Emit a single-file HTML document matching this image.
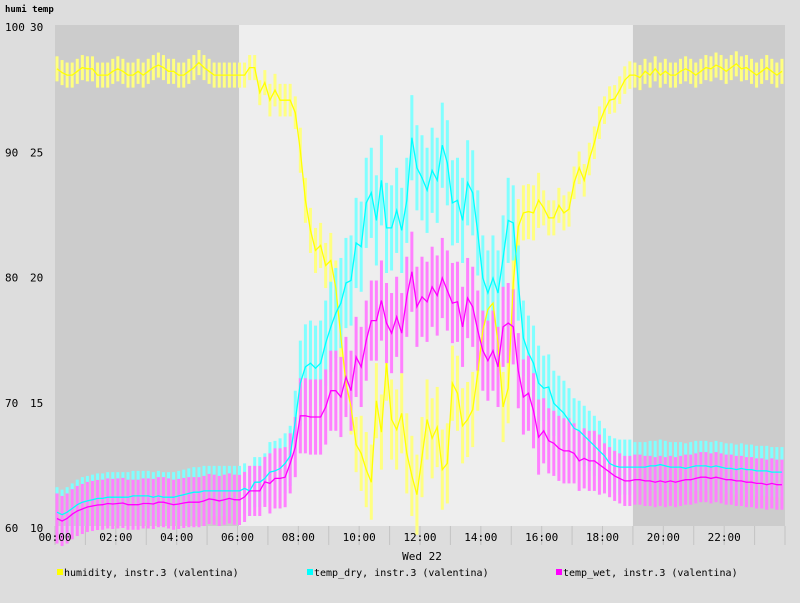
<!DOCTYPE html>
<html><head><meta charset="utf-8"><style>
html,body{margin:0;padding:0;background:#dddddd;}
svg{display:block;font-family:"DejaVu Sans Mono","Liberation Mono",monospace;}
</style></head><body>
<svg id="chart" width="800" height="603" viewBox="0 0 800 603" xmlns="http://www.w3.org/2000/svg">
<rect x="0" y="0" width="800" height="603" fill="#dddddd"/>
<g id="shade"></g><g id="ticks"></g><g id="bars"></g><g id="lines"></g>
<text x="5" y="12" font-size="9" font-weight="bold" fill="#000">humi temp</text>
<g id="ylabels" font-size="11" fill="#000"></g>
<g id="xlabels" font-size="11" fill="#000"></g>
<text x="422" y="560" font-size="11" text-anchor="middle" fill="#000">Wed 22</text>
<g font-size="10">
<rect x="57" y="569" width="6" height="6" fill="#ffff00"/>
<text x="64" y="576" fill="#000">humidity, instr.3 (valentina)</text>
<rect x="307" y="569" width="6" height="6" fill="#00ffff"/>
<text x="314" y="576" fill="#000">temp_dry, instr.3 (valentina)</text>
<rect x="556" y="569" width="6" height="6" fill="#ff00ff"/>
<text x="563" y="576" fill="#000">temp_wet, instr.3 (valentina)</text>
</g>
</svg>
<script>
const humidity=[96.5,96.2,96.0,96.0,96.3,96.6,96.5,96.5,96.0,96.0,96.0,96.3,96.5,96.3,96.0,96.0,96.3,96.0,96.3,96.6,96.8,96.6,96.3,96.3,96.0,96.0,96.3,96.6,97.0,96.6,96.3,96.0,96.0,96.0,96.0,96.0,
96.0,96.0,96.6,96.6,94.6,95.4,94.0,94.8,94.0,94.0,94.0,93.0,90.0,86.0,83.6,82.0,82.4,80.8,81.2,79.0,75.1,71.4,69.5,66.5,65.8,64.5,63.5,70.0,67.5,73.0,68.5,67.7,69.0,65.8,64.0,62.5,65.5,68.5,67.0,67.9,64.5,65.0,71.4,70.6,68.0,68.5,69.3,72.2,75.6,77.3,77.8,74.6,69.5,71.0,79.4,83.9,85.0,85.1,85.0,86.0,85.4,84.6,84.6,85.6,85.0,85.3,87.4,88.6,87.6,89.3,90.6,92.2,93.2,94.0,94.1,94.8,95.6,96.0,96.0,
95.8,96.3,96.0,96.5,96.0,96.3,96.0,96.0,96.3,96.5,96.3,96.0,96.3,96.6,96.5,96.8,96.6,96.3,96.6,96.9,96.5,96.6,96.3,96.0,96.3,96.6,96.3,96.0,96.3];
const tempDry=[10.55,10.45,10.55,10.7,10.85,10.95,11.0,11.05,11.1,11.1,11.15,11.15,11.15,11.15,11.15,11.2,11.2,11.2,11.2,11.15,11.2,11.15,11.15,11.15,11.2,11.25,11.3,11.35,11.35,11.4,11.4,11.4,11.4,11.4,11.4,11.4,
11.4,11.5,11.4,11.75,11.75,11.9,12.15,12.2,12.3,12.5,12.8,14.2,15.7,16.35,16.5,16.3,16.5,17.3,17.95,18.5,18.9,19.7,19.8,21.3,21.15,22.9,23.3,22.2,23.8,21.9,21.9,22.6,21.8,23.0,25.5,24.3,23.9,23.4,24.2,23.8,25.2,24.5,22.9,23.0,22.2,23.7,23.3,21.7,19.9,19.3,19.9,19.3,20.7,22.2,22.1,19.7,17.5,16.9,16.5,15.7,15.5,15.55,14.9,14.7,14.5,14.2,13.9,13.8,13.6,13.4,13.2,13.0,12.8,12.5,12.4,12.35,12.35,12.35,12.35,
12.35,12.35,12.4,12.4,12.45,12.4,12.35,12.35,12.35,12.3,12.35,12.4,12.4,12.4,12.35,12.4,12.35,12.3,12.3,12.25,12.3,12.25,12.25,12.2,12.2,12.2,12.15,12.15,12.15];
const tempWet=[10.3,10.2,10.3,10.47,10.6,10.68,10.76,10.8,10.84,10.85,10.9,10.88,10.9,10.92,10.85,10.85,10.85,10.9,10.9,10.88,10.95,10.95,10.9,10.85,10.88,10.92,10.95,10.95,10.95,11.0,11.08,11.05,11.0,11.05,11.1,11.05,
11.04,11.16,11.4,11.4,11.4,11.76,11.7,11.9,11.9,11.95,12.5,13.15,14.4,14.4,14.35,14.35,14.35,14.75,15.4,15.4,15.15,15.95,15.4,16.75,16.35,17.4,18.2,18.2,19.0,18.1,17.7,18.35,17.7,19.15,20.15,18.75,19.15,18.95,19.55,19.2,19.9,19.4,18.9,18.95,17.95,19.1,18.75,17.8,17.0,16.6,17.0,16.35,17.95,18.1,17.95,16.2,15.15,15.3,14.6,13.55,13.8,13.4,13.3,13.1,13.0,13.0,12.9,12.6,12.7,12.6,12.6,12.45,12.3,
12.15,12.0,11.9,11.8,11.8,11.85,11.85,11.8,11.8,11.75,11.8,11.75,11.8,11.75,11.8,11.85,11.85,11.9,11.95,11.95,11.9,11.95,11.9,11.85,11.85,11.8,11.8,11.75,11.75,11.7,11.7,11.65,11.7,11.65,11.65];
const humSpreadHourly=[1.0,1.0,1.0,1.0,1.0,1.0,1.0,1.3,1.8,2.2,3.0,3.2,3.2,3.0,2.8,2.2,1.4,1.3,1.1,1.0,1.0,1.0,1.0,1.0];
const drySpreadHourly=[1.0,1.0,1.0,1.0,1.0,1.0,1.0,1.2,1.7,1.8,1.8,1.7,1.7,1.7,1.7,1.5,1.3,1.2,1.1,1.0,1.0,1.0,1.0,1.0];
const wetSpreadHourly=[1.0,1.0,1.0,1.0,1.0,1.0,1.0,1.2,1.5,1.6,1.6,1.6,1.6,1.6,1.6,1.5,1.3,1.2,1.0,1.0,1.0,1.0,1.0,1.0];
const hourLabels=["00:00","02:00","04:00","06:00","08:00","10:00","12:00","14:00","16:00","18:00","20:00","22:00"];
const humiTicks=[100,90,80,70,60];
const tempTicks=[30,25,20,15,10];
const nightStart=[0,19], nightEnd=[6.05,24];

const NS="http://www.w3.org/2000/svg";
const X0=55,X1=785,Y0=25,Y1=526;
const xOfHour=h=>X0+(X1-X0)*h/24;
const xOfIdx=i=>xOfHour(i/6)+2;
const yH=v=>Y1-(v-60)/40*(Y1-Y0);
const yT=v=>Y1-(v-10)/20*(Y1-Y0);
function mk(tag,attrs,parent){const e=document.createElementNS(NS,tag);for(const k in attrs)e.setAttribute(k,attrs[k]);parent.appendChild(e);return e;}
const shade=document.getElementById('shade');
const pa=mk('rect',{x:X0,y:Y0,width:X1-X0,height:Y1-Y0,fill:'#eeeeee'},shade);


for(let k=0;k<nightStart.length;k++){
 const r=mk('rect',{x:xOfHour(nightStart[k]),y:Y0,width:xOfHour(nightEnd[k])-xOfHour(nightStart[k]),height:Y1-Y0,fill:'#cccccc'},shade);
 
 
}
const ticks=document.getElementById('ticks');
for(let h=0;h<=24;h++){
 const t=mk('line',{x1:xOfHour(h),x2:xOfHour(h),y1:Y1,y2:545,stroke:'#c4c4c4','stroke-width':1},ticks);
 
 
}
const xl=document.getElementById('xlabels');
hourLabels.forEach((s,k)=>{const t=mk('text',{x:xOfHour(k*2),y:541,'text-anchor':'middle'},xl);t.textContent=s;
 
 });
const yl=document.getElementById('ylabels');
humiTicks.forEach((v,k)=>{const t=mk('text',{x:5,y:yH(v)+6},yl);t.textContent=v;
 
 
 const u=mk('text',{x:30,y:yT(tempTicks[k])+6},yl);u.textContent=tempTicks[k];
 
 });
const bars=document.getElementById('bars'),lines=document.getElementById('lines');
const series=[
 {d:humidity,s:humSpreadHourly,y:yH,bar:'#ffff80',line:'#ffff00',name:'humidity'},
 {d:tempDry,s:drySpreadHourly,y:yT,bar:'#80ffff',line:'#00ffff',name:'temp-dry'},
 {d:tempWet,s:wetSpreadHourly,y:yT,bar:'#ff80ff',line:'#ff00ff',name:'temp-wet'}];
series.forEach(S=>{
 S.d.forEach((v,i)=>{
  const sp=S.s[Math.floor(i/6)];
  const ya=S.y(v+sp),yb=S.y(v-sp);
  const r=mk('rect',{x:xOfIdx(i)-1.5,y:ya,width:3,height:yb-ya,fill:S.bar},bars);
  
  
 });
});
series.forEach(S=>{
 const pts=S.d.map((v,i)=>xOfIdx(i).toFixed(1)+','+S.y(v).toFixed(1)).join(' ');
 const p=mk('polyline',{points:pts,fill:'none',stroke:S.line,'stroke-width':1.3},lines);
 
 
});
</script>
</body></html>
